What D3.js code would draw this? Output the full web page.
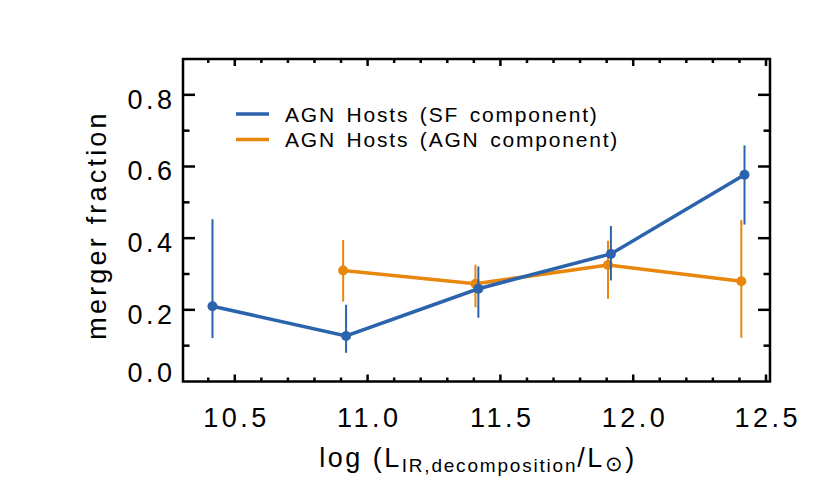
<!DOCTYPE html>
<html><head><meta charset="utf-8">
<script src="https://cdn.jsdelivr.net/npm/d3@7"></script>
<style>body{margin:0;background:#fff}svg{display:block}text{font-family:"Liberation Sans",Arial,sans-serif;fill:#000}</style>
</head><body><svg id="c" width="830" height="499"></svg>
<script>
// ---- data ----
const sfX    = [10.416, 10.919, 11.417, 11.916, 12.419];
const sfY    = [0.210, 0.127, 0.259, 0.356, 0.577];
const sfLo   = [0.121, 0.080, 0.178, 0.282, 0.438];
const sfHi   = [0.453, 0.214, 0.321, 0.434, 0.659];
const agnX   = [10.908, 11.406, 11.905, 12.407];
const agnY   = [0.310, 0.273, 0.325, 0.280];
const agnLo  = [0.223, 0.207, 0.231, 0.122];
const agnHi  = [0.395, 0.326, 0.393, 0.451];
const xTicks = [10.5, 11.0, 11.5, 12.0, 12.5];
const xTickLabels = ["10.5", "11.0", "11.5", "12.0", "12.5"];
const yTicks = [0.0, 0.2, 0.4, 0.6, 0.8];
const yTickLabels = ["0.0", "0.2", "0.4", "0.6", "0.8"];
const seriesNames = ["AGN Hosts (SF component)", "AGN Hosts (AGN component)"];
const colors = ["#2b63ad", "#e8870c"];

const L = 183, R = 770, T = 59, B = 381.5;
const x = d3.scaleLinear().domain([10.305, 12.515]).range([L, R]);
const y = d3.scaleLinear().domain([0, 0.9]).range([B, T]);
const svg = d3.select("#c");

// frame
svg.append("rect").attr("x", L).attr("y", T).attr("width", R - L).attr("height", B - T)
  .attr("fill", "none").attr("stroke", "#000").attr("stroke-width", 2.5);

// ticks (inward on all sides)
const xMinor = d3.range(10.4, 12.55, 0.1).map(v => +v.toFixed(1));
const yMinor = d3.range(0.1, 0.9, 0.1).map(v => +v.toFixed(1));
const tg = svg.append("g").attr("stroke", "#000").attr("stroke-width", 2.5);
xMinor.forEach(v => {
  const major = xTicks.some(t => Math.abs(t - v) < 1e-6);
  const len = major ? 7 : 4;
  tg.append("line").attr("x1", x(v)).attr("x2", x(v)).attr("y1", B).attr("y2", B - len);
  tg.append("line").attr("x1", x(v)).attr("x2", x(v)).attr("y1", T).attr("y2", T + len);
});
yMinor.forEach(v => {
  const major = yTicks.some(t => Math.abs(t - v) < 1e-6);
  const len = major ? 12 : 6.5;
  tg.append("line").attr("x1", L).attr("x2", L + len).attr("y1", y(v)).attr("y2", y(v));
  tg.append("line").attr("x1", R).attr("x2", R - len).attr("y1", y(v)).attr("y2", y(v));
});

// tick labels
svg.append("g").selectAll("text").data(xTicks).join("text")
  .attr("x", d => x(d) + 1.75).attr("y", B + 45.5).attr("text-anchor", "middle")
  .attr("font-size", 27).attr("letter-spacing", 3.5)
  .text((d, i) => xTickLabels[i]);
svg.append("g").selectAll("text").data(yTicks).join("text")
  .attr("x", 172 + 3.5).attr("y", (d, i) => y(d) + (i === 0 ? 0.8 : 13.7)).attr("text-anchor", "end")
  .attr("font-size", 27).attr("letter-spacing", 3.5)
  .text((d, i) => yTickLabels[i]);

// axis titles
svg.append("text").attr("transform", "translate(106,225) rotate(-90)").attr("text-anchor", "middle")
  .attr("font-size", 27).attr("letter-spacing", 3.2).text("merger fraction");
const xt = svg.append("text").attr("x", 478).attr("y", 467).attr("text-anchor", "middle")
  .attr("font-size", 27).attr("letter-spacing", 2.5);
xt.append("tspan").text("log (L");
xt.append("tspan").attr("font-size", 19).attr("dy", 5).attr("letter-spacing", 1.8).text("IR,decomposition");
xt.append("tspan").attr("dy", -5).text("/L");
xt.append("tspan").attr("font-size", 21).attr("dy", 4).text("\u2299");
xt.append("tspan").attr("dy", -4).text(")");

// series
function drawSeries(xs, ys, lo, hi, col) {
  const pts = xs.map((v, i) => ({x: v, y: ys[i], lo: lo[i], hi: hi[i]}));
  const g = svg.append("g");
  g.selectAll("line.err").data(pts).join("line").attr("class", "err")
    .attr("x1", d => x(d.x)).attr("x2", d => x(d.x)).attr("y1", d => y(d.lo)).attr("y2", d => y(d.hi))
    .attr("stroke", col).attr("stroke-width", 2);
  g.append("path").datum(pts).attr("fill", "none").attr("stroke", col).attr("stroke-width", 3.6)
    .attr("d", d3.line().x(d => x(d.x)).y(d => y(d.y)));
  g.selectAll("circle").data(pts).join("circle")
    .attr("cx", d => x(d.x)).attr("cy", d => y(d.y)).attr("r", 5).attr("fill", col);
}
drawSeries(agnX, agnY, agnLo, agnHi, colors[1]);
drawSeries(sfX, sfY, sfLo, sfHi, colors[0]);

// legend
seriesNames.forEach((name, i) => {
  const ly = 114 + i * 25.5;
  svg.append("line").attr("x1", 236).attr("x2", 269).attr("y1", ly).attr("y2", ly)
    .attr("stroke", colors[i]).attr("stroke-width", 3.3);
  svg.append("text").attr("x", 285).attr("y", ly + 7.5).attr("font-size", 21)
    .attr("letter-spacing", 1.8).attr("word-spacing", 3).text(name);
});
</script></body></html>
